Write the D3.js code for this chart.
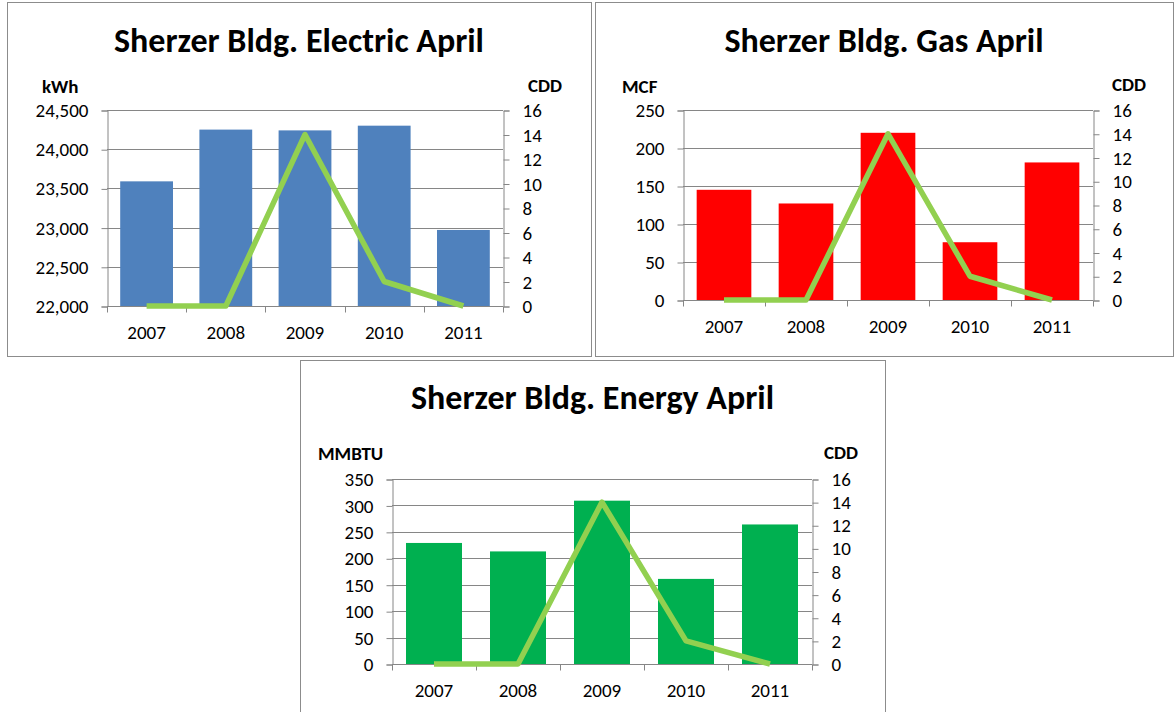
<!DOCTYPE html>
<html>
<head>
<meta charset="utf-8">
<script src="https://cdn.jsdelivr.net/npm/d3@7"></script>
<style>
  body { margin: 0; background: #fff; }
  text { font-family: Carlito, Lato, "Open Sans", sans-serif; fill: #000; }
</style>
</head>
<body>
<div id="viz"></div>
<script>
var years = ["2007", "2008", "2009", "2010", "2011"];
var cdd = [0, 0, 14, 2, 0];
var electric = [23590, 24250, 24240, 24300, 22970];
var gas = [145, 127, 220, 76, 181];
var energy = [229, 213, 309, 161, 264];

var electricTicks = [22000, 22500, 23000, 23500, 24000, 24500];
var gasTicks = [0, 50, 100, 150, 200, 250];
var energyTicks = [0, 50, 100, 150, 200, 250, 300, 350];
var cddTicks = [0, 2, 4, 6, 8, 10, 12, 14, 16];

var grid_colour = "#868686";
var line_colour = "#92D050";
var label_size = "19px";

var svg = d3.select("#viz")
  .append("svg")
  .attr("width", 1174)
  .attr("height", 712);

function panel(p) {
  var g = svg.append("g");

  g.append("rect")
    .attr("x", p.box[0] + 0.5).attr("y", p.box[1] + 0.5)
    .attr("width", p.box[2] - p.box[0]).attr("height", p.box[3] - p.box[1])
    .attr("fill", "#fff").attr("stroke", "#8c8c8c");

  g.append("text")
    .attr("x", (p.box[0] + p.box[2]) / 2).attr("y", p.titleY)
    .attr("text-anchor", "middle")
    .style("font-size", "34px").style("font-weight", "bold")
    .text(p.title);

  var x = d3.scaleBand().domain(years).range([p.left, p.right]).paddingInner(1/3).paddingOuter(1/6);
  var xc = d3.scalePoint().domain(years).range([p.left, p.right]).padding(0.5);
  var y = d3.scaleLinear().domain(p.domain).range([p.bottom, p.top]);
  var y2 = d3.scaleLinear().domain([0, 16]).range([p.bottom, p.top]);

  // gridlines
  g.selectAll(".grid").data(p.ticks).enter().append("line")
    .attr("x1", p.left).attr("x2", p.right)
    .attr("y1", function(d) { return Math.round(y(d)) + 0.5; })
    .attr("y2", function(d) { return Math.round(y(d)) + 0.5; })
    .attr("stroke", grid_colour);

  // left axis
  var la = g.append("g").attr("transform", "translate(" + (p.left + 0.5) + ",0.5)")
    .call(d3.axisLeft(y).tickValues(p.ticks).tickSize(6).tickPadding(13)
      .tickFormat(d3.format(p.fmt)));
  // right axis
  var ra = g.append("g").attr("transform", "translate(" + (p.right + 0.5) + ",0.5)")
    .call(d3.axisRight(y2).tickValues(cddTicks).tickSize(6).tickPadding(13));
  [la, ra].forEach(function(a) {
    a.select(".domain").attr("stroke", grid_colour);
    a.selectAll(".tick line").attr("stroke", grid_colour);
    a.selectAll(".tick text").style("font-size", label_size).attr("fill", "#000");
  });

  // bars
  g.selectAll(".bar").data(p.values).enter().append("rect")
    .attr("x", function(d, i) { return x(years[i]); })
    .attr("width", x.bandwidth())
    .attr("y", function(d) { return y(d); })
    .attr("height", function(d) { return p.bottom - y(d); })
    .attr("fill", p.colour);

  // x axis
  var bx = g.append("g").attr("transform", "translate(0," + (p.bottom + 0.5) + ")");
  bx.append("line").attr("x1", p.left).attr("x2", p.right).attr("stroke", grid_colour);
  var step = (p.right - p.left) / years.length;
  bx.selectAll(".xt").data(d3.range(years.length + 1)).enter().append("line")
    .attr("x1", function(i) { return Math.round(p.left + i * step) + 0.5; })
    .attr("x2", function(i) { return Math.round(p.left + i * step) + 0.5; })
    .attr("y1", 0).attr("y2", 6).attr("stroke", grid_colour);
  bx.selectAll(".xl").data(years).enter().append("text")
    .attr("x", function(d) { return xc(d); }).attr("y", 32)
    .attr("text-anchor", "middle").style("font-size", label_size)
    .text(function(d) { return d; });

  // CDD line
  g.append("path")
    .datum(cdd)
    .attr("d", d3.line().x(function(d, i) { return xc(years[i]); }).y(function(d) { return y2(d); }))
    .attr("fill", "none").attr("stroke", line_colour)
    .attr("stroke-width", 5.5).attr("stroke-linejoin", "round");

  // axis titles
  g.append("text").attr("x", p.unitX).attr("y", p.unitY)
    .style("font-size", "19px").style("font-weight", "bold").text(p.unit);
  g.append("text").attr("x", p.cddX).attr("y", p.cddY)
    .style("font-size", "19px").style("font-weight", "bold").text("CDD");
}

panel({
  box: [7, 2, 591, 356], title: "Sherzer Bldg. Electric April", titleY: 52,
  left: 107, right: 503, top: 110, bottom: 306,
  domain: [22000, 24500], ticks: electricTicks, fmt: ",", values: electric, colour: "#4F81BD",
  unit: "kWh", unitX: 42, unitY: 93, cddX: 528, cddY: 92
});

panel({
  box: [595, 2, 1173, 356], title: "Sherzer Bldg. Gas April", titleY: 52,
  left: 683, right: 1093, top: 110, bottom: 300,
  domain: [0, 250], ticks: gasTicks, fmt: "d", values: gas, colour: "#FF0000",
  unit: "MCF", unitX: 622, unitY: 93, cddX: 1112, cddY: 91
});

panel({
  box: [300, 360, 885, 720], title: "Sherzer Bldg. Energy April", titleY: 409,
  left: 392, right: 812, top: 479, bottom: 664,
  domain: [0, 350], ticks: energyTicks, fmt: "d", values: energy, colour: "#00B050",
  unit: "MMBTU", unitX: 318, unitY: 460, cddX: 824, cddY: 459
});
</script>
</body>
</html>
